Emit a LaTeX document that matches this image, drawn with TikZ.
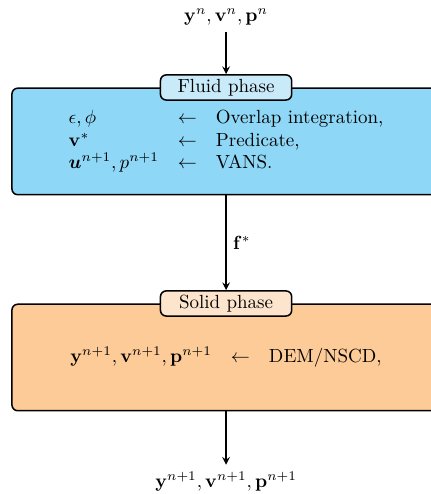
\documentclass[tikz,border=0pt]{standalone}
\usepackage{amsmath,amssymb,bm}
\usetikzlibrary{arrows, positioning}

\definecolor{fluidblue}{RGB}{142,215,246}
\definecolor{fluidlight}{RGB}{201,234,248}
\definecolor{solidorange}{RGB}{253,203,152}
\definecolor{solidlight}{RGB}{253,229,205}

\begin{document}
\begin{tikzpicture}[> = stealth, % arrow head style
                thick, % line style
                phasebox/.style = {draw = black, rounded corners = 3pt,
                    minimum width = 225.2pt, minimum height = 56pt},
                phasetitle/.style = {draw = black, rounded corners = 3pt,
                    minimum width = 69pt, minimum height = 13.2pt, inner sep = 1pt}
            ]

            \useasboundingbox (-118.9pt,-185.4pt) rectangle (107.3pt,74.4pt);

            % the two phases
            \node[phasebox, fill = fluidblue] (fluid) at (0,0) {$\begin{array}{lcl}
                    \epsilon, \phi & \leftarrow & \text{Overlap integration,}\\
                    \mathbf{v}^{*} & \leftarrow & \text{Predicate,}\\
                    \bm{u}^{n+1}, p^{n+1} & \leftarrow & \text{VANS.}
                \end{array}$\hspace{4pt}};
            \node[phasebox, fill = solidorange, below = 56.8pt of fluid] (solid)
                {$\begin{array}{lcl}
                    \mathbf{y}^{n+1}, \mathbf{v}^{n+1}, \mathbf{p}^{n+1} & \leftarrow
                    & \text{DEM/NSCD,}
                \end{array}$\hspace{4pt}};

            \node[phasetitle, fill = fluidlight] (fluidtitle) at (fluid.north)
                {Fluid phase};
            \node[phasetitle, fill = solidlight] (solidtitle) at (solid.north)
                {Solid phase};

            % states
            \node (old) [above = 22pt of fluidtitle]
                {$\mathbf{y}^{n}, \mathbf{v}^{n}, \mathbf{p}^{n}$};
            \node (new) [below = 28pt of solid]
                {$\mathbf{y}^{n+1}, \mathbf{v}^{n+1}, \mathbf{p}^{n+1}$};

            \path[->] (old) edge (fluidtitle);
            \path[->] (fluid) edge node[right] {$\mathbf{f}^{*}$} (solidtitle);
            \path[->] (solid) edge (new);
        \end{tikzpicture}
\end{document}
